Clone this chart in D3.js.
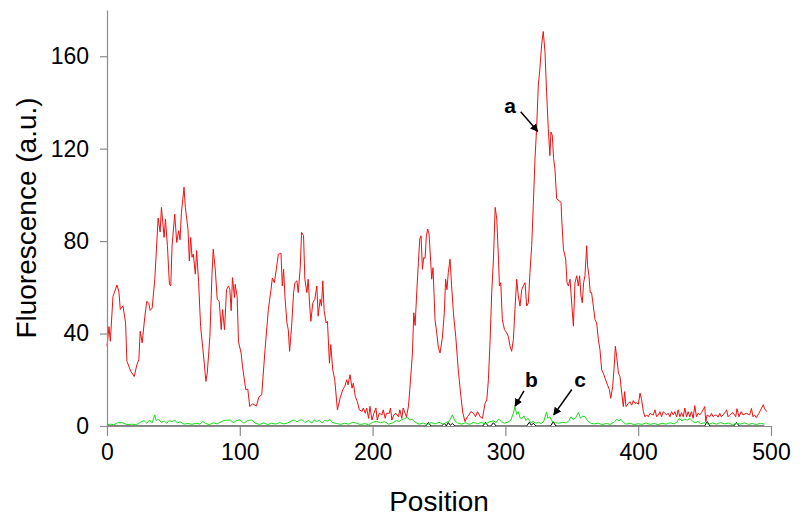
<!DOCTYPE html>
<html>
<head>
<meta charset="utf-8">
<script src="https://cdn.jsdelivr.net/npm/d3@7"></script>
<style>
  body { margin: 0; background: #fff; }
  svg { display: block; font-family: Arial, "Liberation Sans", sans-serif; }
</style>
</head>
<body>
<svg id="chart" width="800" height="526"></svg>
<script>
// tick labels
var xTicks = [0, 100, 200, 300, 400, 500];
var yTicks = [0, 40, 80, 120, 160];

// curve a (red) : [position, fluorescence]
var redSeries = [
  [0,34.5],[1.5,43],[2.5,36.7],[4.5,56],[7.5,61],[9,58],[10,50.4],[12,52],[14,44.6],[15,28],
  [18,23.6],[20.5,21.4],[22.5,26.5],[24,28.7],[25,41],[26.5,36],[28.5,47.5],[30,54],[31.5,53],[32.5,50],
  [34,51],[36,63.5],[38.5,90],[40,84],[41,94.6],[43,81.6],[44,89.6],[45.5,78],[47,61.3],[48,60.6],
  [49,78],[51,91.7],[52.5,79.4],[54,84.5],[55,80.6],[56,92],[58,103.3],[59,94.6],[61,85],[62,71.4],
  [63,81.6],[64,73],[65,74.4],[66.5,65.7],[67.5,75.9],[69,62],[70.5,43],[72.5,31.6],[74.5,19.3],[75.5,22.9],
  [77.5,38.8],[79,65],[80,76.5],[81.5,68],[83,54.8],[84.5,54],[86,41.7],[87,50.4],[88.5,41.7],[90,59],
  [91.5,60.6],[92.5,59],[93.5,49.9],[94.5,64.2],[96,55.6],[96.5,61.3],[98,56],[99,36.4],[101,31.6],[102,25.9],
  [104.5,15.7],[106,16],[107.5,8.4],[109.5,9.6],[112.5,8.7],[114.5,12.7],[116.5,13.5],[119,33],[121.5,50.4],[123.5,59],
  [124.5,64],[126,62],[127.5,67.8],[129,74.3],[131,74.8],[132,60.6],[133,67.8],[134,56],[135.5,44.6],[136.5,41.7],
  [137.5,32.3],[139,43],[140.5,57.7],[141.5,62],[143,62.8],[144,57.7],[145.5,68.5],[146.5,83.8],[148,82.4],[149,63.5],
  [150.5,57.7],[151.5,63.5],[152.5,53.3],[153.5,45.3],[155,53.3],[156.5,54.8],[158,60.6],[159,47.5],[160.5,54.8],[161.5,51.9],
  [162.5,62.8],[163.5,49.9],[165,44.6],[166,45.3],[167.5,27.2],[168.5,35.2],[170,24.3],[171.5,20],[173.5,7],[175.5,12],
  [177.5,15.7],[179,17.1],[180.5,20],[181.5,17.8],[183,22.2],[184.5,16.4],[185.5,18.5],[187,12.7],[188.5,10.6],[190,7],
  [192,6.3],[193,7.8],[194.5,5.5],[195.5,7.8],[197,3.3],[198,8.5],[199.5,2.6],[201,5.5],[202.5,7.8],[203.5,2.6],
  [205,5.5],[207,4.8],[208,7],[209.5,3.3],[210.5,5.5],[212.5,5.5],[213.5,7.8],[214.5,2.6],[216,4.8],[217.5,5.5],
  [219.5,4],[220.5,7],[222,3.3],[223,7.8],[224.5,5.5],[225.5,4],[227,8.5],[228,15.7],[230,31.6],[231,49],
  [232,43.5],[233.5,60.6],[234.5,70.7],[235.5,80.9],[236.5,82.3],[237.5,67.8],[238.5,72.9],[239.5,72.5],[240.5,82.3],[241.5,85.2],
  [242.5,83.1],[243.5,73.6],[244.5,63.5],[245.5,68.5],[247,46],[248.3,40.3],[249.5,34],[250.8,31.6],[252.5,38],[254,49],
  [255,63.5],[256,59],[257,66.4],[258.3,72.2],[259.5,60.6],[261,48],[262.6,38.8],[264.5,24.3],[266.5,12.7],[268,5.5],
  [269.6,1.9],[271.3,4],[272.5,4.8],[274,6.2],[276,5.5],[277.5,4],[279,6.2],[281,4],[282.7,3.3],[284.7,9.8],
  [286,11.3],[287.2,20],[288.5,37.4],[289.7,57.7],[291,72.2],[292.3,94.6],[293.5,89.6],[294.8,72.2],[295.5,60.6],[296.5,62],
  [297.7,46],[299.3,41.7],[301,40.3],[302.2,38.8],[303.5,34.5],[304.7,32.3],[306,37.4],[307.2,50.4],[308.5,63.5],[309.7,56.3],
  [311,51.9],[312.3,59],[313.5,60.6],[314.8,62],[316,51.9],[317.3,53.3],[318.5,66.4],[319.8,78],[321,95.4],[322.3,115.7],
  [323.5,128.7],[324.8,147.5],[326,154.8],[327.3,165],[328.5,170.7],[329.8,162],[331,144.6],[332.3,128.7],[333.5,117],[334.3,127.2],
  [335.3,125.8],[336.3,115.7],[337.3,111.3],[338.6,98.3],[340.4,97.5],[341.9,96.8],[342.4,89.6],[343.7,76.5],[345.4,72.2],[346.4,62],
  [347.4,60.6],[348.7,63.5],[349.9,53.3],[351.2,43.2],[352.4,62],[353.7,65],[354.9,60.6],[355.9,65],[356.9,56.3],[357.9,53.3],
  [358.9,62],[359.9,65],[361.2,78],[361.9,69.3],[362.9,65],[363.9,57.7],[364.9,57.7],[366.2,51.9],[367.5,46],[368.7,44.6],
  [370,37.4],[371.2,33],[372.5,24.3],[373.7,22.9],[375,20.7],[376.3,18.6],[378.3,15.7],[379.3,12],[380.8,17.1],[382.1,27.2],
  [382.8,34.5],[383.8,30],[385.1,22.9],[386.3,21.4],[387.6,14.2],[388.8,8.4],[389.8,14.9],[390.8,8.4],[392.6,9.8],[393.8,10.5],
  [395.1,9],[396.3,11],[397.6,9.8],[398.8,10],[400.1,9.4],[401.4,14.2],[402.6,11.3],[403.9,6.2],[405.1,4],[406.4,4.8],
  [407.6,4],[408.9,5.5],[410.1,5],[411.4,4.8],[412.6,7],[413.9,4],[415.1,4.8],[416.4,6.2],[417.6,4],[418.9,6.2],
  [420.1,5.5],[421.4,4.8],[422.6,5.5],[423.9,4],[425.1,6.2],[426.4,4.8],[427.6,6.2],[428.9,4],[430.1,7],[431.4,4],
  [432.6,5.8],[433.9,4],[435.1,7.8],[436.4,4],[437.6,6.2],[438.9,4],[440.1,6.2],[441.4,3.3],[442.6,8.8],[443.9,4],
  [445.1,5.5],[446.4,4.8],[447.6,5.8],[448.9,7],[450.1,8.4],[450.9,1.9],[451.9,4.8],[453.9,4],[455.2,5.5],[456.4,4],
  [457.6,4.6],[458.9,4.8],[460.1,3.8],[461.4,5.5],[462.6,4],[463.9,4.8],[465.9,6.2],[466.6,7],[467.6,4],[468.9,4.8],
  [471.4,5.8],[473.4,4],[474.4,7.5],[475.9,4],[477.6,6.2],[478.9,4.8],[481.4,5.5],[483.9,4.8],[485.3,7.6],[486.4,4],
  [487.6,4.8],[488.9,3.6],[490.9,5.5],[492.6,7.4],[494.2,9.2],[495.1,7.5],[496.8,6.2]
];

// curve b (green)
var greenSeries = [
  [0,0.6],[3,0.8],[5,0.5],[8,1.4],[12,1.4],[15,0.6],[19,0.8],[22,0.5],[25,1.6],[28,2.3],
  [30,1.2],[32,2.6],[34,1.4],[36,4.8],[37,2.4],[39,2.9],[41,1.5],[43,2.2],[45,1.2],[47,2.4],
  [49,1.9],[51,2.6],[53,1.3],[55,1.8],[58,0.8],[61,1.1],[64,0.7],[67,1.2],[70,0.8],[72,1.9],
  [74,1.2],[77,0.6],[80,1.4],[83,0.9],[86,1.8],[88,2.4],[90,2.5],[93,2.6],[95,1.4],[97,2.2],
  [100,2.7],[103,1.2],[106,2.4],[109,2.6],[112,1.1],[115,0.7],[118,1.4],[121,0.6],[124,1.2],[127,0.8],
  [130,1.5],[133,0.9],[136,1.3],[139,2.2],[141,2.6],[143,1.8],[145,2.5],[147,2.7],[149,1.5],[152,2.4],
  [154,1.2],[156,2.6],[158,1.9],[160,2.5],[162,1.3],[164,2.4],[166,2.1],[168,2.8],[170,1.4],[173,1.1],
  [176,0.7],[179,1.2],[182,0.8],[185,1.6],[188,1.2],[191,0.6],[194,1.1],[197,0.5],[200,1.6],[203,2],
  [206,1.4],[209,1.9],[212,0.8],[215,1.3],[218,2.4],[220,1.9],[222,2.8],[224,3.1],[226,4],[228,2.5],
  [230,3],[232,1.6],[235,0.8],[238,1.3],[241,0.6],[244,1.5],[247,0.9],[250,1.6],[253,0.8],[256,1.7],
  [258,2.3],[260,4.8],[262,2.2],[264,1.3],[267,0.8],[270,1.4],[273,0.7],[276,1.6],[279,1],[282,1.5],
  [285,0.9],[288,1.8],[291,2.2],[293,1.5],[295,3],[297,1.9],[299,1.2],[302,1.7],[304,2.4],[306,5.5],
  [307.2,8.4],[308.5,5],[309.7,6.2],[311,3.5],[312.5,3.3],[314,4.4],[315.5,2.4],[317,3.3],[319,1.5],[321,1.9],
  [323,1.2],[325,1.6],[327,1],[329,2.2],[331,6],[332,3.4],[333.5,4],[335,2.2],[337,1.5],[340,1.2],
  [343,1.6],[346,1.3],[348,2.5],[349.5,4],[351,2.8],[353,3.6],[355,6],[356.5,3.4],[358,4.2],[360,4],
  [362,2.2],[364,1.3],[367,0.9],[370,1.2],[373,0.6],[376,1.1],[379,0.7],[382,1.8],[384,2.9],[385.5,2.2],
  [387,2.9],[389,1.5],[391,0.8],[394,1.2],[397,0.6],[400,1],[403,0.7],[406,1.3],[409,0.7],[412,1.1],
  [415,0.6],[418,1.2],[421,0.8],[424,1.4],[427,0.9],[429,1.6],[431,3.3],[433,2.2],[435,3],[437,2.5],
  [439,3.3],[441,2],[443,1.4],[445,2],[447,1],[450,1.4],[453,0.7],[456,1.3],[459,0.8],[462,1.5],
  [465,0.9],[468,1.3],[471,0.6],[474,1.2],[477,0.8],[480,1.4],[483,0.7],[486,1.1],[489,0.6],[492,1.2],
  [495,0.8]
];

// curve c (black)
var blackSeries = [
  [0,0],[240,0],[242,1.5],[244,0],[252,0],[254,1.2],[255.5,0],[257,1.5],[258.5,0.3],[260,1.1],
  [262,0],[283,0],[285,1.6],[287,0],[289,0],[291,1.4],[293,0],[316,0],[318,1.6],[319.5,0.3],
  [321,1.2],[323,0],[334,0],[336,1.8],[338,0],[450,0],[452,1.9],[454,0],[472,0],[474,1.6],
  [476,0],[495,0]
];

// annotation labels: text, label anchor, arrow start, arrow end (data units)
var notes = [
  { label: 'a', at: [303.5, 135.3], from: [311.5, 136], to: [324.3, 127.5] },
  { label: 'b', at: [319.5, 16.9], from: [314, 15.2], to: [307.3, 8.6] },
  { label: 'c', at: [356.2, 16.9], from: [350, 15.8], to: [336.4, 4.8] }
];

var svg = d3.select('#chart');
var x = d3.scaleLinear().domain([0, 500]).range([107, 771]);
var y = d3.scaleLinear().domain([0, 180]).range([426, 10]);

svg.append('rect').attr('width', 800).attr('height', 526).attr('fill', 'white');

var line = d3.line()
  .x(function (d) { return x(d[0]); })
  .y(function (d) { return y(d[1]); });

svg.append('path').datum(blackSeries)
  .attr('d', line).attr('fill', 'none').attr('stroke', '#000').attr('stroke-width', 1);
svg.append('path').datum(greenSeries)
  .attr('d', line).attr('fill', 'none').attr('stroke', '#14e014').attr('stroke-width', 1);
svg.append('path').datum(redSeries)
  .attr('d', line).attr('fill', 'none').attr('stroke', '#f01010').attr('stroke-width', 1);

// axes
var yAxis = svg.append('g')
  .attr('transform', 'translate(107,0)')
  .call(d3.axisLeft(y).tickValues(yTicks).tickSize(7).tickPadding(11).tickSizeOuter(0));
var xAxis = svg.append('g')
  .attr('transform', 'translate(0,426)')
  .call(d3.axisBottom(x).tickValues(xTicks).tickSize(10).tickPadding(8).tickSizeOuter(0));

[xAxis, yAxis].forEach(function (g) {
  g.select('.domain').attr('stroke', '#8c8c8c').attr('stroke-width', 1.2);
  g.selectAll('.tick line').attr('stroke', '#8c8c8c').attr('stroke-width', 1.2);
  g.selectAll('.tick text').attr('fill', '#000').style('font-size', '23px')
    .style('font-family', 'Arial, "Liberation Sans", sans-serif');
});

// axis titles
svg.append('text')
  .attr('transform', 'translate(36,218) rotate(-90)')
  .attr('text-anchor', 'middle')
  .style('font-size', '28px')
  .text('Fluorescence (a.u.)');
svg.append('text')
  .attr('x', x(250)).attr('y', 511)
  .attr('text-anchor', 'middle')
  .style('font-size', '28px')
  .text('Position');

// arrows
svg.append('defs').append('marker')
  .attr('id', 'head')
  .attr('viewBox', '0 0 10 10')
  .attr('refX', 9).attr('refY', 5)
  .attr('markerWidth', 8).attr('markerHeight', 8)
  .attr('markerUnits', 'userSpaceOnUse')
  .attr('orient', 'auto')
  .append('path').attr('d', 'M0,0 L10,5 L0,10 Z').attr('fill', '#000');

svg.selectAll('.arrow').data(notes).enter().append('line')
  .attr('class', 'arrow')
  .attr('x1', function (d) { return x(d.from[0]); })
  .attr('y1', function (d) { return y(d.from[1]); })
  .attr('x2', function (d) { return x(d.to[0]); })
  .attr('y2', function (d) { return y(d.to[1]); })
  .attr('stroke', '#000').attr('stroke-width', 1.5)
  .attr('marker-end', 'url(#head)');

svg.selectAll('.note').data(notes).enter().append('text')
  .attr('class', 'note')
  .attr('x', function (d) { return x(d.at[0]); })
  .attr('y', function (d) { return y(d.at[1]); })
  .attr('text-anchor', 'middle')
  .style('font-size', '21px').style('font-weight', 'bold')
  .text(function (d) { return d.label; });
</script>
</body>
</html>
